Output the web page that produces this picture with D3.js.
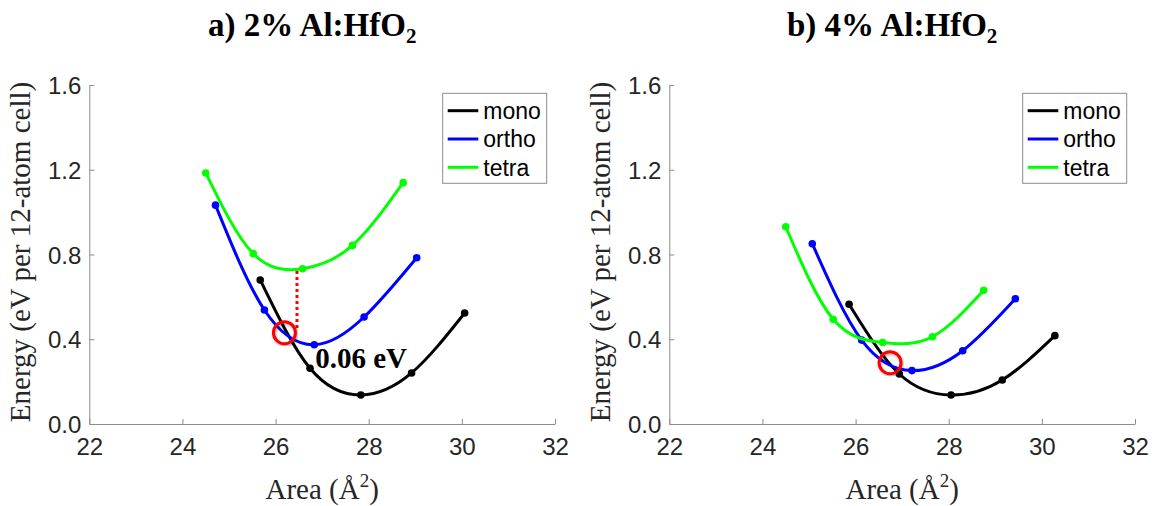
<!DOCTYPE html>
<html>
<head>
<meta charset="utf-8">
<script src="https://cdn.jsdelivr.net/npm/d3@7"></script>
<style>
  body { margin: 0; background: #fff; }
  svg { display: block; }
</style>
</head>
<body>
<svg id="chart" width="1154" height="506"></svg>
<script>
// tick values
const x_ticks = [22, 24, 26, 28, 30, 32];
const y_ticks = [0, 0.4, 0.8, 1.2, 1.6];
const series_names = ["mono", "ortho", "tetra"];
const series_colors = ["#000000", "#0000ff", "#00ff00"];

// panel a) 2% Al:HfO2
const a_mono  = [[25.67, 0.680], [26.74, 0.263], [27.83, 0.137], [28.92, 0.241], [30.06, 0.524]];
const a_ortho = [[24.71, 1.033], [25.76, 0.538], [26.83, 0.374], [27.90, 0.505], [29.03, 0.785]];
const a_tetra = [[24.50, 1.185], [25.52, 0.804], [26.58, 0.733], [27.65, 0.843], [28.74, 1.139]];
const a_cross = [26.19, 0.431];
const a_gap_line = [[26.46, 0.722], [26.46, 0.452]];
const a_gap_label = "0.06 eV";
const a_gap_label_pos = [26.85, 0.266];

// panel b) 4% Al:HfO2
const b_mono  = [[25.86, 0.565], [26.94, 0.236], [28.05, 0.137], [29.15, 0.208], [30.28, 0.417]];
const b_ortho = [[25.07, 0.851], [26.13, 0.396], [27.21, 0.252], [28.30, 0.346], [29.43, 0.591]];
const b_tetra = [[24.50, 0.931], [25.52, 0.494], [26.58, 0.385], [27.65, 0.412], [28.75, 0.631]];
const b_cross = [26.74, 0.289];

const svg = d3.select("#chart");

const defs = svg.append("defs");
defs.append("filter").attr("id", "shadow")
    .append("feDropShadow")
    .attr("dx", 1).attr("dy", 1.5).attr("stdDeviation", 1.2)
    .attr("flood-color", "#000").attr("flood-opacity", 0.35);

function drawPanel(left, titleMain, series, cross, extra){
    const right = left + 465.7;
    const x = d3.scaleLinear().domain([22, 32]).range([left, right]);
    const y = d3.scaleLinear().domain([0, 1.6]).range([424, 85]);
    const g = svg.append("g");

    // title
    const title = g.append("text")
        .attr("x", (left + right) / 2 - 10)
        .attr("y", 36)
        .attr("text-anchor", "middle")
        .attr("font-family", "Liberation Serif, Times New Roman, serif")
        .attr("font-weight", "bold")
        .attr("font-size", 33)
        .attr("fill", "#000");
    title.append("tspan").text(titleMain);
    title.append("tspan").attr("font-size", 21).attr("dy", 7).text("2");

    // axes
    const xAxis = g.append("g")
        .attr("transform", "translate(0,424)")
        .call(d3.axisBottom(x).tickValues(x_ticks).tickSizeInner(-5).tickSizeOuter(0).tickPadding(14));
    const yAxis = g.append("g")
        .attr("transform", "translate(" + left + ",0)")
        .call(d3.axisLeft(y).tickValues(y_ticks).tickFormat(d3.format(".1f")).tickSizeInner(-5).tickSizeOuter(0).tickPadding(8));
    [xAxis, yAxis].forEach(a => {
        a.select(".domain").attr("stroke", "#8c8c8c").attr("stroke-width", 1);
        a.selectAll(".tick line").attr("stroke", "#8c8c8c");
        a.selectAll(".tick text")
            .attr("font-family", "Liberation Sans, Arial, sans-serif")
            .attr("font-size", 24)
            .attr("fill", "#262626");
    });
    yAxis.selectAll(".tick text").attr("dy", "0.36em");

    // axis labels
    const xl = g.append("text")
        .attr("x", (left + right) / 2)
        .attr("y", 499)
        .attr("text-anchor", "middle")
        .attr("font-family", "Liberation Serif, Times New Roman, serif")
        .attr("font-size", 29)
        .attr("fill", "#262626");
    xl.append("tspan").text("Area (Å");
    xl.append("tspan").attr("font-size", 19).attr("dy", -12).text("2");
    xl.append("tspan").attr("dy", 12).text(")");

    g.append("text")
        .attr("transform", "translate(" + (left - 59) + ",252) rotate(-90)")
        .attr("text-anchor", "middle")
        .attr("font-family", "Liberation Serif, Times New Roman, serif")
        .attr("font-size", 29)
        .attr("fill", "#262626")
        .text("Energy (eV per 12-atom cell)");

    // curves
    const line = d3.line()
        .x(d => x(d[0]))
        .y(d => y(d[1]))
        .curve(d3.curveNatural);
    series.forEach((s, i) => {
        g.append("path")
            .datum(s)
            .attr("fill", "none")
            .attr("stroke", series_colors[i])
            .attr("stroke-width", 3)
            .attr("d", line);
        g.selectAll(null)
            .data(s)
            .enter()
            .append("circle")
            .attr("cx", d => x(d[0]))
            .attr("cy", d => y(d[1]))
            .attr("r", 3.8)
            .attr("fill", series_colors[i]);
    });

    if (extra) extra(g, x, y);

    // crossing marker
    g.append("circle")
        .attr("cx", x(cross[0]))
        .attr("cy", y(cross[1]))
        .attr("r", 11)
        .attr("fill", "none")
        .attr("stroke", "#ff0000")
        .attr("stroke-width", 3)
        .attr("filter", "url(#shadow)");

    // legend
    const lx = right - 112.3;
    const leg = g.append("g");
    leg.append("rect")
        .attr("x", lx).attr("y", 93.3)
        .attr("width", 104).attr("height", 90)
        .attr("fill", "#fff")
        .attr("stroke", "#8c8c8c")
        .attr("stroke-width", 1);
    series_names.forEach((name, i) => {
        const cy = 110.7 + i * 28.3;
        leg.append("line")
            .attr("x1", lx + 5).attr("x2", lx + 35.6)
            .attr("y1", cy).attr("y2", cy)
            .attr("stroke", series_colors[i])
            .attr("stroke-width", 3);
        leg.append("text")
            .attr("x", lx + 40.6)
            .attr("y", cy)
            .attr("dy", "0.36em")
            .attr("font-family", "Liberation Sans, Arial, sans-serif")
            .attr("font-size", 23)
            .attr("fill", "#000")
            .text(name);
    });
}

drawPanel(89.3, "a) 2% Al:HfO", [a_mono, a_ortho, a_tetra], a_cross, function(g, x, y){
    g.append("path")
        .datum(a_gap_line)
        .attr("fill", "none")
        .attr("stroke", "#ff0000")
        .attr("stroke-width", 3)
        .attr("stroke-dasharray", "3,3")
        .attr("d", d3.line().x(d => x(d[0])).y(d => y(d[1])));
    g.append("text")
        .attr("x", x(a_gap_label_pos[0]))
        .attr("y", y(a_gap_label_pos[1]))
        .attr("font-family", "Liberation Serif, Times New Roman, serif")
        .attr("font-weight", "bold")
        .attr("font-size", 29)
        .attr("fill", "#000")
        .text(a_gap_label);
});
drawPanel(669.3, "b) 4% Al:HfO", [b_mono, b_ortho, b_tetra], b_cross, null);
</script>
</body>
</html>
